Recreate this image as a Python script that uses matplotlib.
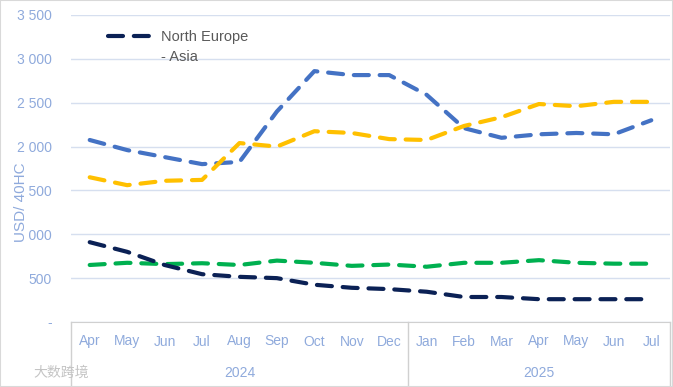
import matplotlib
matplotlib.use("Agg")
import matplotlib.pyplot as plt
from matplotlib.lines import Line2D
from matplotlib.patches import Rectangle
import matplotlib.transforms as mtransforms

months = ["Apr", "May", "Jun", "Jul", "Aug", "Sep", "Oct", "Nov", "Dec",
          "Jan", "Feb", "Mar", "Apr", "May", "Jun", "Jul"]
years = ["2024", "2025"]
year_spans = [(0, 8), (9, 15)]

north_europe_asia = [910, 800, 650, 545, 515, 500, 425, 390, 375, 345, 285, 285, 260, 260, 260, 260]
series_blue = [2075, 1960, 1880, 1800, 1825, 2400, 2860, 2815, 2815, 2590, 2210, 2100, 2140, 2155, 2140, 2300]
series_yellow = [1650, 1560, 1610, 1620, 2040, 2000, 2175, 2155, 2085, 2075, 2235, 2335, 2485, 2460, 2510, 2510]
series_green = [650, 675, 660, 670, 650, 700, 675, 640, 655, 630, 675, 675, 705, 675, 665, 665]

yticks = [0, 500, 1000, 1500, 2000, 2500, 3000, 3500]
ytick_labels = ["-", "500", "1 000", "1 500", "2 000", "2 500", "3 000", "3 500"]

plt.rcParams['font.family'] = ['Liberation Sans', 'DejaVu Sans']
tick_col = "#8FAADC"

W, H = 673, 387
fig = plt.figure(figsize=(W / 100, H / 100), dpi=100)
ax = fig.add_axes([71 / W, (H - 322) / H, 599 / W, (322 - 15) / H])

x = list(range(len(months)))
dash = dict(linestyle=(0, (3.6, 2.6)), linewidth=3.0, dash_capstyle='round')
ax.plot(x, series_blue, color="#4472C4", **dash)
ax.plot(x, series_yellow, color="#FFC000", **dash)
ax.plot(x, series_green, color="#00B050", **dash)
ax.plot(x, north_europe_asia, color="#0B2155", label="North Europe", **dash)

ax.set_xlim(-0.5, len(months) - 0.5)
ax.set_ylim(0, 3500)
ax.set_yticks(yticks)
ax.set_yticklabels(ytick_labels)
ax.yaxis.grid(True, color="#D6DFEF", linewidth=1.0)
ax.set_axisbelow(True)
for s in ["top", "right", "left"]:
    ax.spines[s].set_visible(False)
ax.spines["bottom"].set_color("#D0D0D0")
ax.tick_params(axis='y', length=0, pad=14, labelsize=10, labelcolor=tick_col)
ax.set_xticks(x)
ax.set_xticklabels(months)
ax.tick_params(axis='x', length=0, pad=9, labelsize=10, labelcolor=tick_col)

ax.set_ylabel("USD/ 40HC", color=tick_col, fontsize=11,
              bbox=dict(facecolor='white', edgecolor='none', pad=0))
ax.yaxis.set_label_coords(-0.072, 0.39)

trans = mtransforms.blended_transform_factory(ax.transData, ax.transAxes)
sep_bottom = -(385 - 322) / (322 - 15)
for xv in [-0.5, 8.5, 15.5]:
    ax.add_line(Line2D([xv, xv], [0, sep_bottom], transform=trans, color="#D0D0D0",
                       linewidth=1.0, clip_on=False))
for yr, (a, b) in zip(years, year_spans):
    ax.text((a + b) / 2, -(373 - 322) / (322 - 15), yr, transform=trans, ha='center',
            va='center', fontsize=10, color=tick_col)

leg = ax.legend(loc='center left', bbox_to_anchor=((108 - 71) / 599, (322 - 37) / 307),
                frameon=False, borderpad=0, borderaxespad=0,
                handlelength=3.1, fontsize=10.5, labelcolor="#595959", handletextpad=0.55)
ax.text((161 - 71) / 599, (322 - 57) / 307, "- Asia", transform=ax.transAxes,
        fontsize=10.5, color="#595959", ha='left', va='center')

fig.text(33 / W, (H - 373) / H, "大数跨境", fontsize=10, color="#C4C4C4",
         family=['Noto Sans CJK SC', 'DejaVu Sans'], va='center')

fig.patches.append(Rectangle((0, 0), 1, 1, transform=fig.transFigure, fill=False,
                             edgecolor="#D9D9D9", linewidth=1.5))

fig.savefig("out.png", dpi=100)
